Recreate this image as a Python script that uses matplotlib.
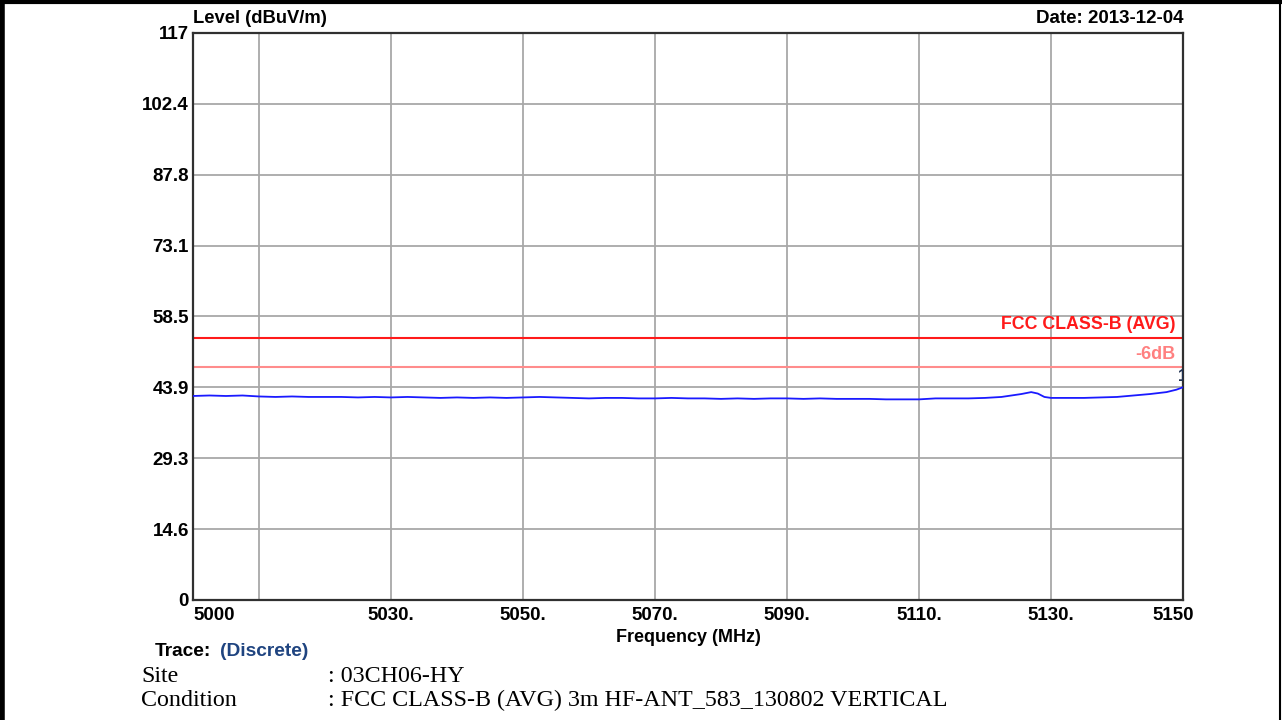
# EMI scan plot: level vs frequency with FCC class-B average limit

import matplotlib
matplotlib.use('Agg')
import matplotlib.pyplot as plt
import matplotlib.transforms as mtrans
from matplotlib.lines import Line2D

# trace
freq = [5000, 5002.5, 5005, 5007.5, 5010, 5012.5, 5015, 5017.5, 5020, 5022.5,
        5025, 5027.5, 5030, 5032.5, 5035, 5037.5, 5040, 5042.5, 5045, 5047.5,
        5050, 5052.5, 5055, 5057.5, 5060, 5062.5, 5065, 5067.5, 5070, 5072.5,
        5075, 5077.5, 5080, 5082.5, 5085, 5087.5, 5090, 5092.5, 5095, 5097.5,
        5100, 5102.5, 5105, 5107.5, 5110, 5112.5, 5115, 5117.5, 5120, 5122.5,
        5124, 5125.5, 5127, 5128, 5129, 5130, 5132.5, 5135, 5137.5, 5140,
        5142.5, 5145, 5147.5, 5149, 5150]
level = [42.1, 42.2, 42.1, 42.2, 42.0, 41.9, 42.0, 41.9, 41.9, 41.9,
         41.8, 41.9, 41.8, 41.9, 41.8, 41.7, 41.8, 41.7, 41.8, 41.7,
         41.8, 41.9, 41.8, 41.7, 41.6, 41.7, 41.7, 41.6, 41.6, 41.7,
         41.6, 41.6, 41.5, 41.6, 41.5, 41.6, 41.6, 41.5, 41.6, 41.5,
         41.5, 41.5, 41.4, 41.4, 41.4, 41.6, 41.6, 41.6, 41.7, 41.9,
         42.2, 42.5, 42.9, 42.6, 41.9, 41.7, 41.7, 41.7, 41.8, 41.9,
         42.2, 42.5, 42.9, 43.4, 43.9]

limit = 54.0      # FCC CLASS-B (AVG)
margin = 48.0     # limit - 6 dB

yticks = [0, 14.625, 29.25, 43.875, 58.5, 73.125, 87.75, 102.375, 117]
ylabels = ['0', '14.6', '29.3', '43.9', '58.5', '73.1', '87.8', '102.4', '117']
xticks = [5000, 5030, 5050, 5070, 5090, 5110, 5130, 5150]
xlabels = ['5000', '5030.', '5050.', '5070.', '5090.', '5110.', '5130.', '5150']
xgrid = [5010, 5030, 5050, 5070, 5090, 5110, 5130]

plt.rcParams['font.family'] = ['Liberation Sans', 'DejaVu Sans']

fig = plt.figure(figsize=(12.82, 7.2), dpi=100)
ax = fig.add_axes([193 / 1282, 120 / 720, 990 / 1282, 567 / 720])

ax.set_xlim(5000, 5150)
ax.set_ylim(0, 117)

for g in xgrid:
    ax.axvline(g, color='#a8a8a8', lw=1.3, zorder=1)
for g in yticks[1:-1]:
    ax.axhline(g, color='#a8a8a8', lw=1.3, zorder=1)

ax.axhline(limit, color='#ff1a1a', lw=1.5, zorder=2)
ax.axhline(margin, color='#ff8c8c', lw=1.5, zorder=2)
ax.plot(freq, level, color='#1a1aff', lw=1.3, zorder=3)

ax.text(5148.9, limit + 1.0, 'FCC CLASS-B (AVG)', color='#ff1a1a', ha='right',
        va='bottom', fontsize=12.8, fontweight='bold')
ax.text(5148.9, margin + 1.0, '-6dB', color='#ff8080', ha='right',
        va='bottom', fontsize=13, fontweight='bold')
ax.text(5150, 44.6, '1', color='#1f3050', ha='center', va='bottom',
        fontsize=12, fontweight='bold', clip_on=True)

ax.set_yticks(yticks)
ax.set_yticklabels(ylabels, fontsize=13.5, fontweight='bold')
ax.set_xticks(xticks)
ax.set_xticklabels(xlabels, fontsize=13.5, fontweight='bold')
ax.tick_params(length=0, pad=3)
ax.tick_params(axis='x', pad=5)

xl = ax.get_xticklabels()
xl[0].set_horizontalalignment('left')
xl[-1].set_transform(xl[-1].get_transform() +
                     mtrans.ScaledTranslation(-10 / 100, 0, fig.dpi_scale_trans))

for s in ax.spines.values():
    s.set_color('#303030')
    s.set_linewidth(1.6)

ax.text(0, 1.01, 'Level (dBuV/m)', transform=ax.transAxes, ha='left',
        va='bottom', fontsize=13.2, fontweight='bold')
ax.text(1, 1.01, 'Date: 2013-12-04', transform=ax.transAxes, ha='right',
        va='bottom', fontsize=13.5, fontweight='bold')
ax.set_xlabel('Frequency (MHz)', fontsize=13, fontweight='bold', labelpad=4)

# footer text
fig.text(155 / 1282, 1 - 651 / 720, 'Trace:', fontsize=13.8, fontweight='bold',
         va='center', ha='left')
fig.text(220 / 1282, 1 - 651 / 720, '(Discrete)', fontsize=13.8,
         fontweight='bold', color='#1f4480', va='center', ha='left')
serif = ['Liberation Serif', 'DejaVu Serif']
fig.text(141 / 1282, 1 - 676 / 720, 'Site', fontsize=17.3, family=serif,
         va='center', ha='left')
fig.text(141 / 1282, 1 - 700 / 720, 'Condition', fontsize=17.3, family=serif,
         va='center', ha='left')
fig.text(328 / 1282, 1 - 676 / 720, ': 03CH06-HY', fontsize=17.3, family=serif,
         va='center', ha='left')
fig.text(328 / 1282, 1 - 700 / 720,
         ': FCC CLASS-B (AVG) 3m HF-ANT_583_130802 VERTICAL', fontsize=17.3,
         family=serif, va='center', ha='left')

# page frame
fig.add_artist(Line2D([2 / 1282, 2 / 1282], [0, 1], color='black', lw=4,
                      transform=fig.transFigure))
fig.add_artist(Line2D([0, 1], [1 - 1.5 / 720, 1 - 1.5 / 720], color='black',
                      lw=3, transform=fig.transFigure))
fig.add_artist(Line2D([1280 / 1282, 1280 / 1282], [0, 1], color='black',
                      lw=1.5, transform=fig.transFigure))

fig.savefig('out.png', dpi=100)
print('created plot out.png')
